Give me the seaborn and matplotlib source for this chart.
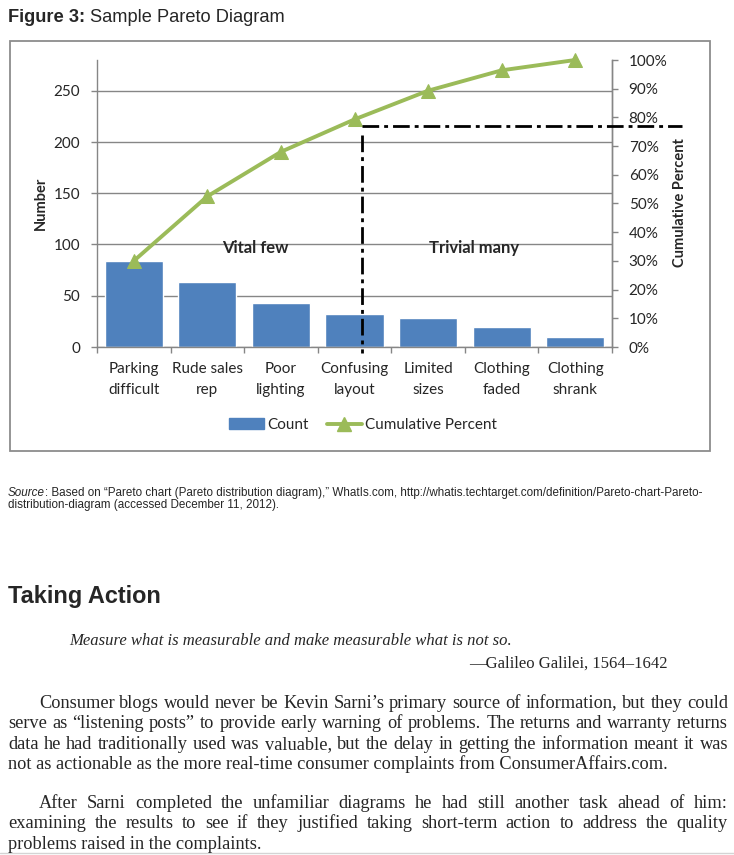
import numpy as np
import pandas as pd
import matplotlib
matplotlib.use("Agg")
import matplotlib.pyplot as plt
import seaborn as sns
from matplotlib import font_manager
from matplotlib.patches import Rectangle, Patch
from matplotlib.lines import Line2D

# ---------- data
causes = ["Parking\ndifficult", "Rude sales\nrep", "Poor\nlighting", "Confusing\nlayout",
          "Limited\nsizes", "Clothing\nfaded", "Clothing\nshrank"]
counts = [84, 63, 43, 32, 28, 20, 10]
cum_pct = [30, 52.5, 68, 79.3, 89.3, 96.4, 100]
count_ticks = [0, 50, 100, 150, 200, 250]
pct_ticks = [0, 10, 20, 30, 40, 50, 60, 70, 80, 90, 100]
count_max = 280
cutoff_pct = 77      # level of the dash-dot "80%" cut line
cutoff_pos = 3.1     # where the vital few / trivial many split sits

df = pd.DataFrame({"cause": causes, "count": counts, "cum_pct": cum_pct})
df["pos"] = np.arange(len(df))

BLUE = "#4F81BD"
GREEN = "#9BBB59"
GRAY = "#868686"

sns.set_theme(style="ticks")
plt.rcParams["font.family"] = ["Lato", "DejaVu Sans"]


def has_font(name):
    try:
        font_manager.findfont(font_manager.FontProperties(family=name), fallback_to_default=False)
        return True
    except ValueError:
        return False


NARROW = "Liberation Sans Narrow" if has_font("Liberation Sans Narrow") else "Liberation Sans"
SANS = "Liberation Sans"
SERIF = "Liberation Serif"

W, H = 734, 855
fig = plt.figure(figsize=(W / 100, H / 100), dpi=100)
fig.patch.set_facecolor("white")


def fx(px):
    return px / W


def fy(py):
    return 1 - py / H


# ---------- chart
ax = fig.add_axes([fx(97), fy(347), (612 - 97) / W, (347 - 60) / H])
sns.barplot(data=df, x="cause", y="count", color=BLUE, saturation=1, width=0.79, ax=ax)
ax.set_xlim(-0.5, len(df) - 0.5)
ax.set_ylim(0, count_max)
ax.set_yticks(count_ticks)
ax.yaxis.grid(True, color=GRAY, lw=1)
ax.set_axisbelow(True)
ax.set_xlabel("")
ax.set_ylabel("")
ax.set_xticks(range(len(df)))
ax.set_xticklabels(causes, linespacing=1.6)
ax.set_xticks(np.arange(-0.5, len(df)), minor=True)
ax.tick_params(axis="x", which="major", length=0, labelsize=11, pad=11)
ax.tick_params(axis="x", which="minor", length=4, width=1, color=GRAY, direction="out")
ax.tick_params(axis="y", length=4, width=1, color=GRAY, labelsize=11, pad=8)
for s in ["left", "bottom", "right"]:
    ax.spines[s].set_color(GRAY)
    ax.spines[s].set_linewidth(1)
ax.spines["top"].set_visible(False)

ax2 = ax.twinx()
sns.lineplot(data=df, x="pos", y="cum_pct", ax=ax2, color=GREEN, lw=2.8,
             marker="^", markersize=10, markeredgecolor=GREEN, legend=False)
for ln in ax2.lines:
    ln.set_clip_on(False)
ax2.set_xlim(-0.5, len(df) - 0.5)
ax2.set_ylim(0, 100)
ax2.set_yticks(pct_ticks)
ax2.set_yticklabels([f"{p}%" for p in pct_ticks])
ax2.set_xlabel("")
ax2.set_ylabel("")
ax2.tick_params(axis="y", length=4, width=1, color=GRAY, labelsize=11, pad=8)
for s in ["left", "bottom", "top"]:
    ax2.spines[s].set_visible(False)
ax2.spines["right"].set_color(GRAY)
ax2.spines["right"].set_linewidth(1)

# cut line (dash-dot)
dd = (6, 1.8, 1.4, 1.8)
ax2.plot([cutoff_pos, len(df) + 0.45], [cutoff_pct, cutoff_pct], color="black", lw=2,
         dashes=dd, clip_on=False, zorder=5)
ax2.plot([cutoff_pos, cutoff_pos], [cutoff_pct - 3, -2], color="black", lw=2,
         dashes=dd, clip_on=False, zorder=5)

fig.text(fx(255), fy(248), "Vital few", ha="center", va="center", fontsize=12, fontweight="bold")
fig.text(fx(474), fy(248), "Trivial many", ha="center", va="center", fontsize=12, fontweight="bold")
fig.text(fx(41), fy(203), "Number", rotation=90, ha="center", va="center", fontsize=10.5, fontweight="bold")
fig.text(fx(680), fy(203), "Cumulative Percent", rotation=90, ha="center", va="center",
         fontsize=10.5, fontweight="bold")

handles = [Patch(color=BLUE, label="Count"),
           Line2D([0], [0], color=GREEN, lw=2.8, marker="^", markersize=10, label="Cumulative Percent")]
fig.legend(handles=handles, loc="center", bbox_to_anchor=(fx(363), fy(425)), ncol=2, frameon=False,
           fontsize=11, handlelength=2.3, handletextpad=0.2, columnspacing=1.2)

fig.add_artist(Rectangle((fx(9.5), fy(451)), (710 - 9.5) / W, (451 - 41) / H, transform=fig.transFigure,
                         fill=False, edgecolor="#8C8C8C", lw=1.3))

# ---------- page text
renderer = fig.canvas.get_renderer()


def width_of(s, size, **kw):
    t = fig.text(0, 0, s, fontsize=size, **kw)
    w = t.get_window_extent(renderer).width
    t.remove()
    return w


def runs(x, y, parts, size):
    # parts placed one after another on the same baseline
    for i, (s, kw) in enumerate(parts):
        if s.startswith(" "):
            x += width_of("x x", size, **kw) - width_of("xx", size, **kw)
            s = s[1:]
        fig.text(fx(x), fy(y), s, fontsize=size, va="baseline", **kw)
        x += width_of(s, size, **kw)


def fit(parts, target):
    w = 0
    for s, kw in parts:
        w += width_of(s.replace(" ", "\u00a0"), 10, **kw)
    return 10 * target / w


def justify(x0, x1, y, line, size, **kw):
    words = line.split()
    ws = [width_of(w, size, **kw) for w in words]
    gap = (x1 - x0 - sum(ws)) / (len(words) - 1)
    x = x0
    for w, wd in zip(words, ws):
        fig.text(fx(x), fy(y), w, fontsize=size, va="baseline", **kw)
        x += wd + gap


title = [("Figure 3:", dict(family=NARROW, fontweight="bold")),
         (" Sample Pareto Diagram", dict(family=NARROW))]
runs(8, 22, title, fit(title, 278))

src1 = [("Source", dict(family=NARROW, style="italic")),
        (": Based on \u201cPareto chart (Pareto distribution diagram),\u201d WhatIs.com, "
         "http://whatis.techtarget.com/definition/Pareto-chart-Pareto-", dict(family=NARROW))]
src_size = fit(src1, 694)
runs(8, 496, src1, src_size)
runs(8, 508, [("distribution-diagram (accessed December 11, 2012).", dict(family=NARROW))], src_size)

head = [("Taking Action", dict(family=SANS, fontweight="bold"))]
runs(8, 603, head, fit(head, 153))

quote = [("Measure what is measurable and make measurable what is not so.", dict(family=SERIF, style="italic"))]
q_size = fit(quote, 442)
runs(69, 645, quote, q_size)
fig.text(fx(668), fy(668), "\u2014Galileo Galilei, 1564\u20131642", family=SERIF, fontsize=q_size,
         ha="right", va="baseline")

para1 = ["Consumer blogs would never be Kevin Sarni\u2019s primary source of information, but they could",
         "serve as \u201clistening posts\u201d to provide early warning of problems. The returns and warranty returns",
         "data he had traditionally used was valuable, but the delay in getting the information meant it was",
         "not as actionable as the more real-time consumer complaints from ConsumerAffairs.com."]
para2 = ["After Sarni completed the unfamiliar diagrams he had still another task ahead of him:",
         "examining the results to see if they justified taking short-term action to address the quality",
         "problems raised in the complaints."]
p_size = fit([(para1[-1], dict(family=SERIF))], 657)

for i, line in enumerate(para1):
    y = 708 + i * 20.3
    x0 = 39 if i == 0 else 8
    if i < len(para1) - 1:
        justify(x0, 728, y, line, p_size, family=SERIF)
    else:
        fig.text(fx(x0), fy(y), line, family=SERIF, fontsize=p_size, va="baseline")

for i, line in enumerate(para2):
    y = 808 + i * 20.3
    x0 = 39 if i == 0 else 8
    if i < len(para2) - 1:
        justify(x0, 728, y, line, p_size, family=SERIF)
    else:
        fig.text(fx(x0), fy(y), line, family=SERIF, fontsize=p_size, va="baseline")

fig.add_artist(Line2D([0, 1], [fy(853), fy(853)], transform=fig.transFigure, color="#D4D4D4", lw=1))

fig.savefig("out.png", dpi=100, facecolor="white")
